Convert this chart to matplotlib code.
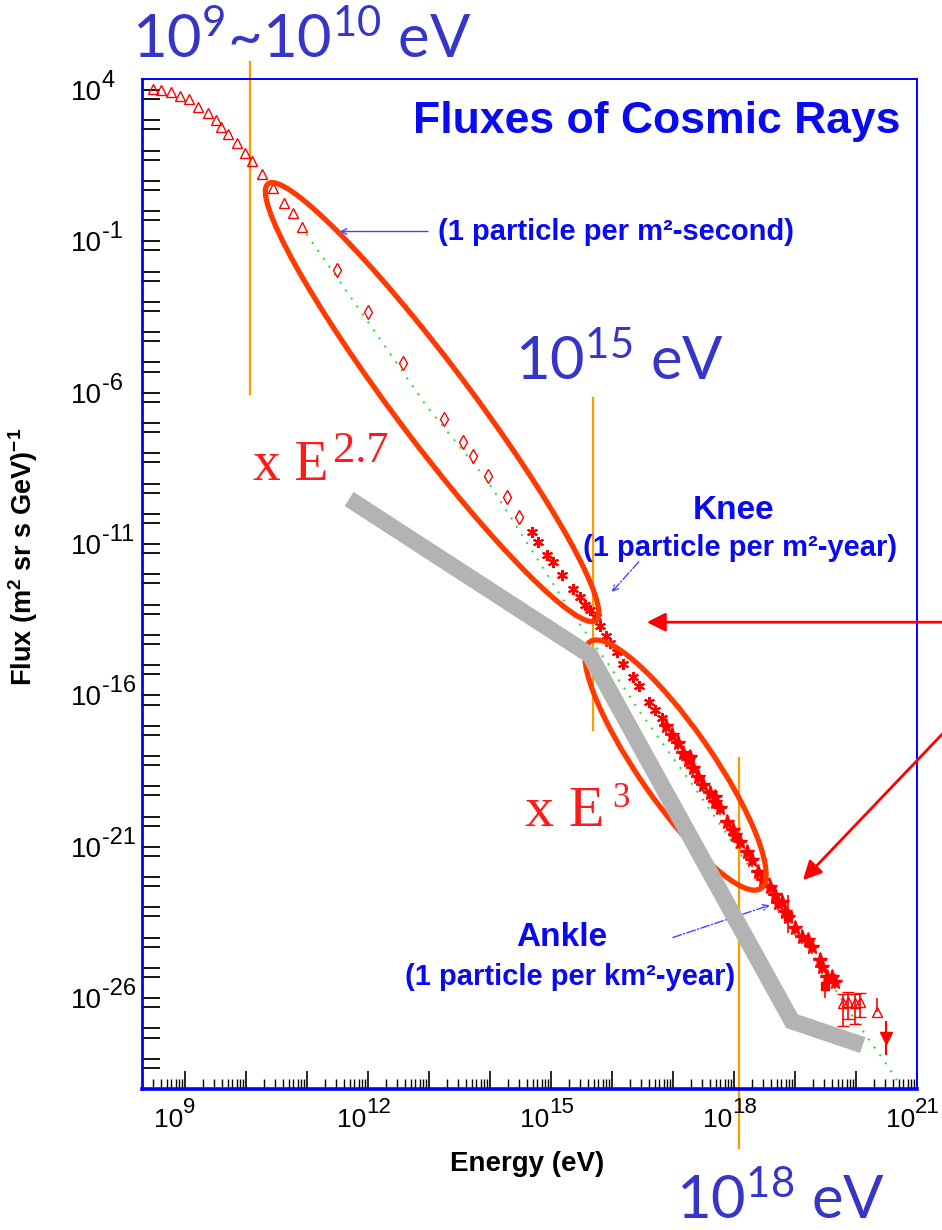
import numpy as np
import matplotlib.pyplot as plt
from matplotlib.patches import Ellipse
from matplotlib.transforms import ScaledTranslation
from matplotlib.ticker import FixedLocator, LogLocator, NullFormatter

plt.rcParams['font.family'] = ['Liberation Sans', 'DejaVu Sans']
plt.rcParams['mathtext.fontset'] = 'custom'
plt.rcParams['mathtext.rm'] = 'Liberation Sans'

# --- data (log10 of energy in eV, log10 of flux) ---
tri_logE = [8.48, 8.61, 8.77, 8.92, 9.07, 9.21, 9.38, 9.51, 9.59, 9.70,
            9.85, 9.98, 10.10, 10.26, 10.44, 10.62, 10.77, 10.92]
tri_logF = [4.03, 4.00, 3.93, 3.80, 3.70, 3.44, 3.24, 3.01, 2.78, 2.55,
            2.25, 1.92, 1.65, 1.22, 0.76, 0.27, -0.06, -0.53]

dia_logE = [11.49, 12.00, 12.57, 13.25, 13.56, 13.72, 13.97, 14.28, 14.48]
dia_logF = [-1.95, -3.33, -5.02, -6.87, -7.63, -8.09, -8.75, -9.45, -10.11]

knee_logE = [14.69, 14.79, 14.93, 15.03, 15.18, 15.36, 15.48, 15.56, 15.64, 15.74,
             15.80, 15.90, 15.97, 16.08, 16.18, 16.34, 16.44, 16.61, 16.70, 16.82]
knee_logF = [-10.60, -10.93, -11.36, -11.59, -12.02, -12.49, -12.75, -13.01, -13.18, -13.41,
             -13.71, -14.04, -14.27, -14.57, -14.96, -15.39, -15.69, -16.22, -16.48, -16.75]

uhe_logE = [16.89, 16.98, 17.08, 17.16, 17.25, 17.28, 17.33, 17.41, 17.49, 17.61,
            17.69, 17.69, 17.77, 17.89, 17.98, 18.02, 18.10, 18.21, 18.30, 18.39,
            18.48, 18.59, 18.67, 18.72, 18.79, 18.84, 18.89, 19.00, 19.11, 19.21,
            19.28, 19.41, 19.44, 19.52, 19.61, 19.66]
uhe_logF = [-17.01, -17.31, -17.57, -17.90, -18.13, -18.03, -18.40, -18.70, -18.96, -19.22,
            -19.52, -19.36, -19.72, -20.18, -20.45, -20.61, -20.84, -21.17, -21.44, -21.83,
            -22.10, -22.33, -22.59, -22.86, -22.83, -23.16, -23.32, -23.68, -23.98, -24.08,
            -24.31, -24.74, -24.97, -25.30, -25.30, -25.47]

# error bars on the band
bar_logE = [18.89, 19.49]
bar_logF = [-23.30, -25.60]
bar_lo = [0.55, 0.40]
bar_hi = [0.70, 0.30]

top_logE = [19.79, 19.87, 19.98, 20.07]
top_logF = [-26.16, -26.13, -26.16, -26.13]
top_err_lo = [0.75, 0.55, 0.70, 0.50]
top_err_hi = [0.30, 0.35, 0.30, 0.30]

lim_logE = [20.34]
lim_logF = [-26.45]
last_logE = [20.49]
last_logF = [-27.32]
last_err = [0.55]

fit_logE = [10.99, 11.75, 12.97, 13.95, 15.36, 15.92, 16.46, 17.44, 18.15, 19.20, 20.02, 20.51, 20.67]
fit_logF = [-0.76, -2.94, -6.47, -8.88, -13.34, -14.90, -16.55, -19.29, -21.37, -24.31, -26.82, -28.21, -28.71]

gray_logE = [11.69, 15.64, 18.95, 20.11]
gray_logF = [-9.51, -14.67, -26.76, -27.55]

# vertical marker lines: energy, flux top, flux bottom
mark_logE = [10.07, 15.69, 18.08]
mark_top = [4.92, -6.17, -18.07]
mark_bot = [-6.04, -17.14, -30.95]

xtick_labels = [9, 12, 15, 18, 21]
ytick_labels = [4, -1, -6, -11, -16, -21, -26]

RED = '#ff0000'
BLUE = '#0a0aee'
SLATE = '#3535c8'
ELL = '#ff3a00'

fig = plt.figure(figsize=(9.42, 12.30), dpi=100)
ax = fig.add_axes([142/942, 1 - 1089/1230, 775/942, 1010/1230])
ax.set_xscale('log')
ax.set_yscale('log')
ax.set_xlim(10**8.295, 1e21)
ax.set_ylim(1e-29, 10**4.363)

p = lambda v: 10.0**np.asarray(v)


def asym(logF, lo, hi):
    y = p(logF)
    return [y - p(np.array(logF) - np.array(lo)), p(np.array(logF) + np.array(hi)) - y]


# fit line
ax.plot(p(fit_logE), p(fit_logF), color='#22dd22', lw=1.4, ls=(0, (1, 4)), zorder=2)

# data
ax.plot(p(tri_logE), p(tri_logF), ls='none', marker='^', ms=7, mfc='none', mec=RED, mew=1, zorder=3)
ax.plot(p(dia_logE), p(dia_logF), ls='none', marker='d', ms=7, mfc='none', mec=RED, mew=1, zorder=3)
ax.plot(p(knee_logE), p(knee_logF), ls='none', marker=(6, 2, 0), ms=8, mec=RED, mew=1.5, zorder=3)
ax.plot(p(knee_logE), p(knee_logF), ls='none', marker='s', ms=3, color=RED, zorder=3)
ax.plot(p(uhe_logE), p(uhe_logF), ls='none', marker='*', ms=11, color=RED, zorder=3)
ax.plot(p(uhe_logE), p(uhe_logF), ls='none', marker='+', ms=10, mew=1.2, color=RED, zorder=3)
ax.errorbar(p(bar_logE), p(bar_logF), yerr=asym(bar_logF, bar_lo, bar_hi),
            fmt='s', ms=6, color=RED, elinewidth=1.2, capsize=0, zorder=3)
ax.errorbar(p(top_logE), p(top_logF), yerr=asym(top_logF, top_err_lo, top_err_hi),
            fmt='^', ms=7, mfc='none', mec=RED, color=RED, elinewidth=1.2, capsize=4, zorder=3)
ax.plot(p(lim_logE), p(lim_logF), ls='none', marker='^', ms=7, mfc='none', mec=RED, zorder=3)
ax.vlines(p(lim_logE), p(lim_logF), p(np.array(lim_logF) + 0.45), color=RED, lw=1.2, zorder=3)
ax.errorbar(p(last_logE), p(last_logF), yerr=asym(last_logF, last_err, last_err),
            fmt='v', ms=8, color=RED, elinewidth=1.5, capsize=0, zorder=3)

# orange energy markers
for e, t, b in zip(mark_logE, mark_top, mark_bot):
    ax.plot([10**e, 10**e], [10**t, 10**b], color='#ff9a00', lw=1.6, clip_on=False, zorder=2)


# ellipses drawn in inches around a data point
def ring(logE, logF, w, h, ang):
    tr = fig.dpi_scale_trans + ScaledTranslation(10**logE, 10**logF, ax.transData)
    ax.add_patch(Ellipse((0, 0), w, h, angle=ang, transform=tr, fill=False,
                         ec=ELL, lw=3.8, zorder=4, clip_on=False))


ring(13.05, -6.31, 5.46, 0.76, -53.1)
ring(17.04, -18.30, 3.00, 0.74, -55.3)

# gray broken line
ax.plot(p(gray_logE), p(gray_logF), color='#b3b3b3', lw=12, solid_capstyle='butt',
        solid_joinstyle='miter', zorder=5)

# red arrows
arr = dict(arrowstyle='-|>', color=RED, lw=2, mutation_scale=28, shrinkA=0, shrinkB=0)
ax.annotate('', xy=(10**16.57, 10**-13.58), xytext=(10**21.45, 10**-13.58),
            arrowprops=arr, annotation_clip=False, zorder=6)
ax.annotate('', xy=(10**19.13, 10**-22.10), xytext=(10**21.45, 10**-17.20),
            arrowprops=arr, annotation_clip=False, zorder=6)

# spines / ticks
for s in ax.spines.values():
    s.set_color('#0000ff')
ax.spines['left'].set_linewidth(2)
ax.spines['bottom'].set_linewidth(2.6)
ax.spines['top'].set_linewidth(1.4)
ax.spines['right'].set_linewidth(1.4)

ax.xaxis.set_major_locator(FixedLocator(10.0**np.arange(9, 22)))
ax.xaxis.set_minor_locator(LogLocator(base=10, subs=np.arange(2, 10), numticks=60))
ax.xaxis.set_minor_formatter(NullFormatter())
ax.yaxis.set_major_locator(FixedLocator(10.0**np.arange(-28, 5)))
ax.yaxis.set_minor_locator(FixedLocator(5 * 10.0**np.arange(-29, 4)))
ax.yaxis.set_minor_formatter(NullFormatter())

ax.tick_params(axis='x', which='major', direction='in', length=13, width=1.2)
ax.tick_params(axis='x', which='minor', direction='in', length=7, width=1)
ax.tick_params(axis='y', which='both', direction='in', length=13, width=1.3)
ax.tick_params(labelbottom=False, labelleft=False)

# tick labels written as base + raised exponent, like the original ROOT plot
for k in xtick_labels:
    ax.annotate('10', xy=(10.0**k, 0), xycoords=ax.get_xaxis_transform(),
                xytext=(-1.5, -27.4), textcoords='offset points',
                ha='right', va='baseline', fontsize=19, annotation_clip=False)
    ax.annotate(str(k), xy=(10.0**k, 0), xycoords=ax.get_xaxis_transform(),
                xytext=(-1.5, -17.3), textcoords='offset points',
                ha='left', va='baseline', fontsize=16, annotation_clip=False)
for k in ytick_labels:
    ax.annotate('10', xy=(0, 10.0**k), xycoords=ax.get_yaxis_transform(),
                xytext=(-28.8, -7.2), textcoords='offset points',
                ha='right', va='baseline', fontsize=20, annotation_clip=False)
    ax.annotate(str(k), xy=(0, 10.0**k), xycoords=ax.get_yaxis_transform(),
                xytext=(-28.8, 2.2), textcoords='offset points',
                ha='left', va='baseline', fontsize=17, annotation_clip=False)

ax.set_xlabel('Energy (eV)', fontsize=20, fontweight='bold')
ax.xaxis.set_label_coords(0.497, -0.061)
ax.set_ylabel(r'Flux (m$\mathdefault{^{2}}$ sr s GeV)$\mathdefault{^{-1}}$',
              fontsize=19.5, fontweight='bold')
ax.yaxis.set_label_coords(-0.1316, 0.527)

# chart annotations
ax.text(0.979, 0.958, 'Fluxes of Cosmic Rays', transform=ax.transAxes, ha='right', va='center',
        fontsize=32, fontweight='bold', color=BLUE)
ax.text(0.382, 0.849, '(1 particle per m²-second)', transform=ax.transAxes, ha='left', va='center',
        fontsize=21, fontweight='bold', color=BLUE)
ax.annotate('', xy=(0.255, 0.849), xytext=(0.369, 0.849), xycoords='axes fraction',
            arrowprops=dict(arrowstyle='->', color='#4444ff', lw=1, shrinkA=0, shrinkB=0))
ax.text(0.763, 0.573, 'Knee', transform=ax.transAxes, ha='center', va='center',
        fontsize=24, fontweight='bold', color=BLUE)
ax.text(0.772, 0.536, '(1 particle per m²-year)', transform=ax.transAxes, ha='center', va='center',
        fontsize=21, fontweight='bold', color=BLUE)
ax.annotate('', xy=(0.606, 0.492), xytext=(0.641, 0.522), xycoords='axes fraction',
            arrowprops=dict(arrowstyle='->', color='#4444ff', lw=1, ls='-.', shrinkA=0, shrinkB=0))
ax.text(0.542, 0.150, 'Ankle', transform=ax.transAxes, ha='center', va='center',
        fontsize=24, fontweight='bold', color=BLUE)
ax.text(0.552, 0.111, '(1 particle per km²-year)', transform=ax.transAxes, ha='center', va='center',
        fontsize=21, fontweight='bold', color=BLUE)
ax.annotate('', xy=(0.810, 0.182), xytext=(0.685, 0.150), xycoords='axes fraction',
            arrowprops=dict(arrowstyle='->', color='#4444ff', lw=1, ls='-.', shrinkA=0, shrinkB=0))

# slide overlay labels
big = dict(family='Lato', fontsize=43, color=SLATE, ha='center', va='baseline', zorder=7)
ax.text(10**10.92, 10**5.06, r'$\mathdefault{10^{9}}$~$\mathdefault{10^{10}}$ eV', **big)
ax.text(10**16.13, 10**-5.58, r'$\mathdefault{10^{15}}$ eV', **big)
ax.text(10**18.77, 10**-33.3, r'$\mathdefault{10^{18}}$ eV', **big)

serif = dict(family='Liberation Serif', color='#ff1a1a', ha='left', va='baseline', zorder=7)
ax.text(10**10.11, 10**-8.88, 'x E', fontsize=40, **serif)
ax.text(10**11.43, 10**-8.29, '2.7', fontsize=32, **serif)
ax.text(10**14.57, 10**-20.31, 'x E', fontsize=42, **serif)
ax.text(10**16.00, 10**-19.69, '3', fontsize=25, **serif)

fig.savefig('out.png', dpi=100, facecolor='white')
